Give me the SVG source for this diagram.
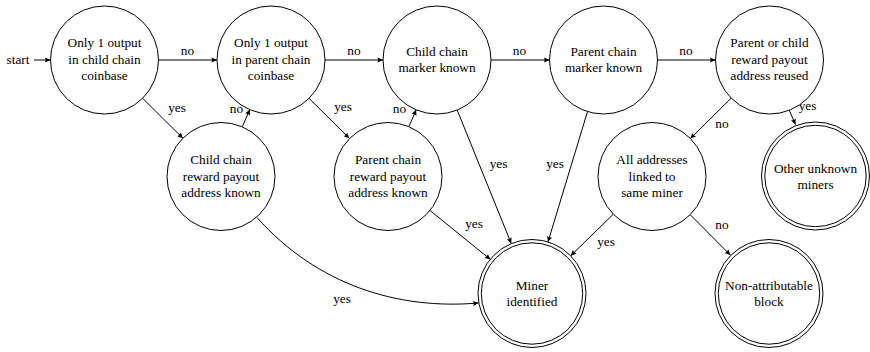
<svg xmlns="http://www.w3.org/2000/svg" width="870" height="352" viewBox="0 0 870 352">
<style>
.n{fill:#fff;stroke:#000;stroke-width:1}
.t{font-family:"Liberation Serif","Times New Roman",serif;font-size:13.3px;fill:#000;text-anchor:middle}
.e{fill:none;stroke:#000;stroke-width:1;marker-end:url(#a)}
</style>
<defs>
<marker id="a" viewBox="-6 -3 7 6" refX="0" refY="0" markerWidth="7" markerHeight="6" markerUnits="userSpaceOnUse" orient="auto">
<path d="M0,0 L-5.5,-2.6 Q-4,0 -5.5,2.6 Z" fill="#000"/>
</marker>
</defs>
<rect width="870" height="352" fill="#fff"/>
<g id="connectors">
<line class="e" x1="34" y1="60" x2="50.5" y2="60"/>
<line class="e" x1="158.5" y1="60" x2="217" y2="60"/>
<line class="e" x1="325" y1="60" x2="383" y2="60"/>
<line class="e" x1="491" y1="60" x2="549.5" y2="60"/>
<line class="e" x1="657.5" y1="60" x2="715.5" y2="60"/>
<line class="e" x1="142.6" y1="98.3" x2="182.9" y2="138.2"/>
<line class="e" x1="242.2" y1="126.9" x2="249.8" y2="109.6"/>
<line class="e" x1="309" y1="98.3" x2="349.3" y2="138.2"/>
<line class="e" x1="408.9" y1="126.7" x2="416.2" y2="109.8"/>
<line class="e" x1="457.2" y1="110.1" x2="511.2" y2="243.4"/>
<line class="e" x1="587.5" y1="111.6" x2="548" y2="241.9"/>
<line class="e" x1="430" y1="210.5" x2="490.5" y2="259.5"/>
<path class="e" d="M257,217.5 C317,285 398,310 478.5,303"/>
<line class="e" x1="731.2" y1="98.1" x2="690.3" y2="138.6"/>
<line class="e" x1="789.3" y1="110.3" x2="795.5" y2="124.5"/>
<line class="e" x1="613.3" y1="214.2" x2="570.7" y2="255.8"/>
<line class="e" x1="690.2" y1="214.7" x2="730.3" y2="255"/>
<text class="t" x="18" y="64">start</text>
<text class="t" x="187.5" y="55">no</text>
<text class="t" x="354" y="55">no</text>
<text class="t" x="519.5" y="55">no</text>
<text class="t" x="686" y="55">no</text>
<text class="t" x="177" y="111.5">yes</text>
<text class="t" x="236.5" y="113">no</text>
<text class="t" x="343" y="110.5">yes</text>
<text class="t" x="399.5" y="112.5">no</text>
<text class="t" x="498.5" y="168">yes</text>
<text class="t" x="555" y="168">yes</text>
<text class="t" x="474" y="228">yes</text>
<text class="t" x="342" y="303">yes</text>
<text class="t" x="722" y="127.5">no</text>
<text class="t" x="807.5" y="110">yes</text>
<text class="t" x="606" y="245.5">yes</text>
<text class="t" x="722" y="229">no</text>
</g>
<g id="n1"><circle class="n" cx="104.5" cy="60" r="54"/>
<text class="t" x="104.5" y="47.3">Only 1 output</text><text class="t" x="104.5" y="64">in child chain</text><text class="t" x="104.5" y="80.3">coinbase</text></g>
<g id="n2"><circle class="n" cx="271" cy="60" r="54"/>
<text class="t" x="271" y="47.3">Only 1 output</text><text class="t" x="271" y="64">in parent chain</text><text class="t" x="271" y="80.3">coinbase</text></g>
<g id="n3"><circle class="n" cx="437" cy="60" r="54"/>
<text class="t" x="437" y="56">Child chain</text><text class="t" x="437" y="72.3">marker known</text></g>
<g id="n4"><circle class="n" cx="603.5" cy="60" r="54"/>
<text class="t" x="603.5" y="56">Parent chain</text><text class="t" x="603.5" y="72.3">marker known</text></g>
<g id="n5"><circle class="n" cx="769.5" cy="60" r="54"/>
<text class="t" x="769.5" y="47.3">Parent or child</text><text class="t" x="769.5" y="64">reward payout</text><text class="t" x="769.5" y="80.3">address reused</text></g>
<g id="n6"><circle class="n" cx="221" cy="176.5" r="54"/>
<text class="t" x="221" y="164">Child chain</text><text class="t" x="221" y="180.5">reward payout</text><text class="t" x="221" y="196.8">address known</text></g>
<g id="n7"><circle class="n" cx="388" cy="176.5" r="54"/>
<text class="t" x="388" y="164">Parent chain</text><text class="t" x="388" y="180.5">reward payout</text><text class="t" x="388" y="196.8">address known</text></g>
<g id="n8"><circle class="n" cx="652" cy="176.5" r="54"/>
<text class="t" x="652" y="164">All addresses</text><text class="t" x="652" y="180.5">linked to</text><text class="t" x="652" y="196.8">same miner</text></g>
<g id="n9"><circle class="n" cx="815.5" cy="176" r="54"/><circle class="n" cx="815.5" cy="176" r="50.7"/>
<text class="t" x="815.5" y="172.5">Other unknown</text><text class="t" x="815.5" y="188.8">miners</text></g>
<g id="n10"><circle class="n" cx="532" cy="293.5" r="54"/><circle class="n" cx="532" cy="293.5" r="50.7"/>
<text class="t" x="532" y="289.5">Miner</text><text class="t" x="532" y="305.8">identified</text></g>
<g id="n11"><circle class="n" cx="769" cy="293.5" r="54"/><circle class="n" cx="769" cy="293.5" r="50.7"/>
<text class="t" x="769" y="289.5">Non-attributable</text><text class="t" x="769" y="305.8">block</text></g>
</svg>
